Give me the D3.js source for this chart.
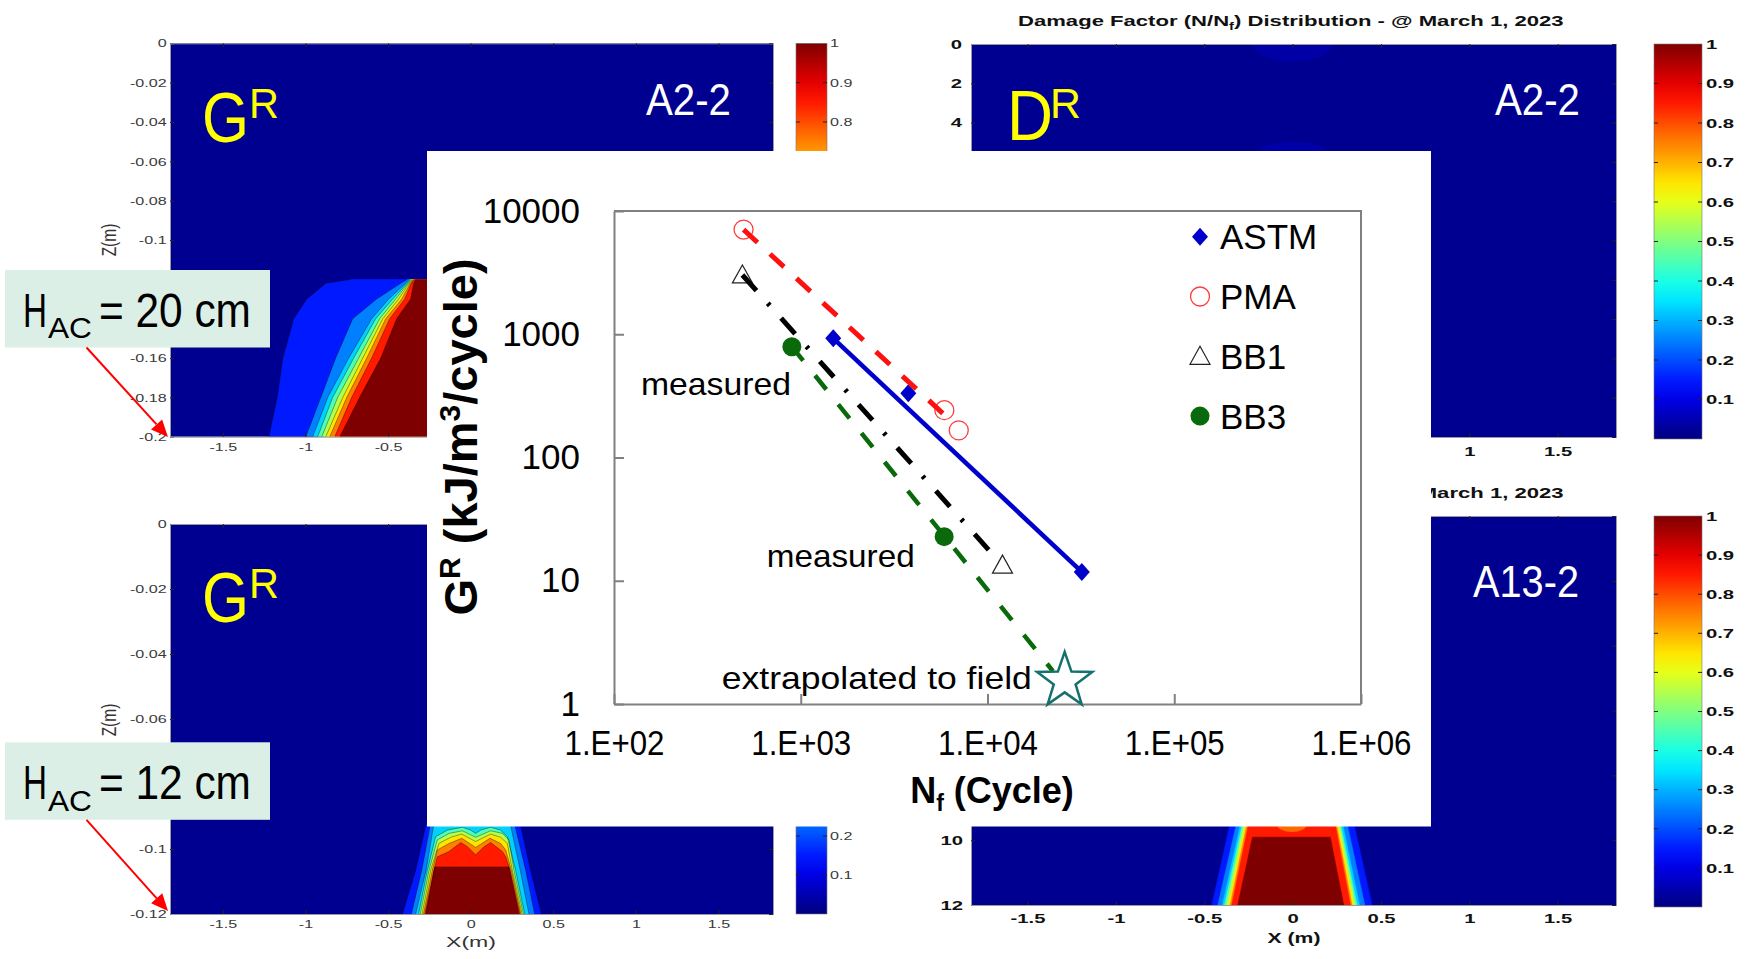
<!DOCTYPE html>
<html>
<head>
<meta charset="utf-8">
<title>Fatigue energy vs cycles, damage maps</title>
<script src="https://cdn.jsdelivr.net/npm/d3@7"></script>
<style>
  body { margin: 0; background: #fff; }
  svg { display: block; }
  text { font-family: "Liberation Sans", Arial, sans-serif; }
</style>
</head>
<body>
<svg id="fig" width="1748" height="959"></svg>
<script>
// ---- G^R vs Nf chart ----
const nfTicks = [1e2, 1e3, 1e4, 1e5, 1e6]
const grTicks = [1, 10, 100, 1000, 10000]
const seriesNames = ['ASTM', 'PMA', 'BB1', 'BB3']
const astm = [[1493, 927], [3767, 332], [31990, 11.8]]
const pma = [[494, 7063], [5875, 242], [7015, 166]]
const bb1 = [[487, 3027], [12030, 13.4]]
const bb3 = [[896, 793], [5861, 22.8]]
const field = [[25900, 1.54]]
// fitted lines
const astmFit = [[1493, 927], [31990, 11.8]]
const pmaFit = [[494, 7063], [6310, 201]]
const bb1Fit = [[487, 3027], [10540, 16.7]]
const bb3Fit = [[896, 793], [22400, 1.85]]
// text notes: label, Nf, G
const notes = [['measured', 139.5, 321], ['measured', 658, 13.0], ['extrapolated to field', 378, 1.32]]

// ---- damage maps ----
const xTicksM = [-1.5, -1, -0.5, 0, 0.5, 1, 1.5]
const cbTicks = [0.1, 0.2, 0.3, 0.4, 0.5, 0.6, 0.7, 0.8, 0.9, 1]
const bandTone = [0.15, 0.25, 0.33, 0.45, 0.55, 0.65, 0.75, 0.85, 1.0]
const jetStops = [0, 0.125, 0.375, 0.625, 0.875, 1]
const jetColors = ['#00007f', '#0000ff', '#00ffff', '#ffff00', '#ff0000', '#7f0000']

// G^R, H=20cm: x (m) of each level edge at these depths (m)
const gr20Depth = [-0.12, -0.122, -0.13, -0.14, -0.16, -0.18, -0.2]
const gr20Edge = [
  [-0.726, -0.877, -0.992, -1.071, -1.137, -1.171, -1.222],
  [-0.383, -0.423, -0.569, -0.714, -0.817, -0.907, -0.998],
  [-0.372, -0.393, -0.496, -0.599, -0.738, -0.865, -0.956],
  [-0.366, -0.384, -0.472, -0.575, -0.708, -0.835, -0.926],
  [-0.360, -0.378, -0.454, -0.551, -0.678, -0.805, -0.901],
  [-0.354, -0.372, -0.436, -0.532, -0.653, -0.774, -0.877],
  [-0.348, -0.366, -0.417, -0.514, -0.629, -0.750, -0.853],
  [-0.342, -0.360, -0.399, -0.490, -0.599, -0.720, -0.823],
  [-0.333, -0.345, -0.363, -0.448, -0.544, -0.672, -0.792]
]

// G^R, H=12cm: level outlines [x m, z m]
const gr12Levels = [
  [[-0.413, -0.12], [-0.333, -0.1065], [-0.26, -0.09], [-0.22, -0.085], [0.25, -0.085], [0.29, -0.09], [0.363, -0.1065], [0.428, -0.12]],
  [[-0.359, -0.12], [-0.296, -0.1065], [-0.235, -0.09], [-0.2, -0.085], [0.22, -0.085], [0.255, -0.09], [0.333, -0.1065], [0.387, -0.12]],
  [[-0.333, -0.12], [-0.27, -0.1065], [-0.215, -0.09], [-0.18, -0.085], [0.2, -0.085], [0.23, -0.09], [0.3, -0.1065], [0.353, -0.12]],
  [[-0.315, -0.12], [-0.262, -0.1065], [-0.212, -0.0962], [-0.141, -0.0942], [-0.05, -0.0933], [0, -0.0942], [0.03, -0.0952], [0.06, -0.0942], [0.121, -0.0933], [0.181, -0.0942], [0.222, -0.0962], [0.272, -0.1065], [0.327, -0.12]],
  [[-0.305, -0.12], [-0.252, -0.1065], [-0.202, -0.0972], [-0.131, -0.0952], [-0.05, -0.0944], [0.03, -0.0964], [0.121, -0.0944], [0.192, -0.0952], [0.232, -0.0972], [0.262, -0.1065], [0.319, -0.12]],
  [[-0.294, -0.12], [-0.242, -0.1065], [-0.192, -0.0983], [-0.121, -0.0964], [-0.054, -0.0954], [0.03, -0.0977], [0.121, -0.0954], [0.181, -0.0964], [0.222, -0.0983], [0.252, -0.1065], [0.311, -0.12]],
  [[-0.286, -0.12], [-0.232, -0.1065], [-0.202, -0.1003], [-0.131, -0.0983], [-0.054, -0.0967], [0.03, -0.0995], [0.117, -0.0967], [0.181, -0.0983], [0.212, -0.1003], [0.246, -0.1065], [0.304, -0.12]],
  [[-0.278, -0.12], [-0.222, -0.1065], [-0.202, -0.1024], [-0.131, -0.1008], [-0.06, -0.098], [-0.02, -0.0993], [0.03, -0.1018], [0.081, -0.0993], [0.121, -0.098], [0.192, -0.1008], [0.212, -0.1024], [0.238, -0.1065], [0.298, -0.12]],
  [[-0.272, -0.12], [-0.218, -0.1055], [0.232, -0.1055], [0.292, -0.12]]
]

// D^R, A13-2: [left top, left bottom, right bottom, right top] x (m), depth in cm
const a13Depth = [9.0, 12.0]
const a13Levels = [
  [-0.334, -0.457, 0.449, 0.327],
  [-0.297, -0.423, 0.408, 0.289],
  [-0.274, -0.397, 0.378, 0.264],
  [-0.264, -0.385, 0.364, 0.253],
  [-0.255, -0.374, 0.355, 0.246],
  [-0.247, -0.364, 0.346, 0.238],
  [-0.240, -0.353, 0.336, 0.230],
  [-0.230, -0.344, 0.327, 0.223],
  [-0.227, -0.310, 0.289, 0.213]
]
const a13CoreTop = 9.91
const a13Blob = [-0.004, 9.5, 0.085, 0.25]
// faint patches in D^R A2-2: x, z(cm), rx, rz
const a22Patches = [[0, 0, 0.226, 0.9], [0, 5.45, 0.19, 0.47]]

const jet = d3.scaleLinear().domain(jetStops).range(jetColors)
const navy = '#000090'
const svg = d3.select('#fig')
const defs = svg.append('defs')

const grad = defs.append('linearGradient').attr('id', 'jetbar')
  .attr('x1', 0).attr('y1', 1).attr('x2', 0).attr('y2', 0)
d3.range(0, 1.0001, 0.05).forEach(t => grad.append('stop').attr('offset', t).attr('stop-color', jet(t)))

// squeeze / stretch text horizontally about its x anchor
function widen(sel, k) {
  sel.each(function () {
    const ax = +this.getAttribute('x') || 0
    d3.select(this).attr('transform', `translate(${ax},0) scale(${k},1) translate(${-ax},0)`)
  })
}
function fitWidth(sel, width) {
  sel.each(function () {
    const w = this.getBBox().width
    if (w) widen(d3.select(this), width / w)
  })
}

const panels = [
  { id: 'tl', left: 170, right: 773, top: 43.3, bottom: 436.7, zDomain: [0, -0.2], zTicks: d3.range(0, -0.2001, -0.02), side: 'left', zPad: 3.4, xPad: 6, cb: [796, 827, 43.3, 436.7] },
  { id: 'bl', left: 170, right: 773, top: 524, bottom: 914, zDomain: [0, -0.12], zTicks: d3.range(0, -0.1201, -0.02), side: 'left', zPad: 3.4, xPad: 6, cb: [796, 827, 524, 914] },
  { id: 'tr', left: 971, right: 1616, top: 44, bottom: 437, zDomain: [0, 20], zTicks: d3.range(0, 20.1, 2), side: 'right', zPad: 9, xPad: 9.3, cb: [1654, 1702, 44, 439] },
  { id: 'br', left: 971, right: 1616, top: 516, bottom: 905, zDomain: [0, 12], zTicks: d3.range(0, 12.1, 2), side: 'right', zPad: 8, xPad: 8.3, cb: [1654, 1702, 516, 907] }
]
const card = [427, 151, 1431, 826.5]
const hacTops = [270, 742.3]

function drawPanel(p) {
  const x = d3.scaleLinear().domain([-1.82, 1.83]).range([p.left, p.right])
  const z = d3.scaleLinear().domain(p.zDomain).range([p.top, p.bottom])
  defs.append('clipPath').attr('id', 'clip-' + p.id).append('rect')
    .attr('x', p.left).attr('y', p.top).attr('width', p.right - p.left).attr('height', p.bottom - p.top)
  const g = svg.append('g')
  g.append('rect').attr('x', p.left).attr('y', p.top)
    .attr('width', p.right - p.left).attr('height', p.bottom - p.top).attr('fill', navy)
  const body = g.append('g').attr('clip-path', `url(#clip-${p.id})`)

  const st = p.side === 'left'
    ? { size: 11.5, weight: 'normal', fill: '#3a3a3a', k: 1.4 }
    : { size: 13.5, weight: 'bold', fill: '#111', k: 1.5 }
  const fmt = d => String(+d.toFixed(2))
  const yl = g.append('g').attr('transform', `translate(${p.left},0)`)
    .call(d3.axisLeft(z).tickValues(p.zTicks).tickFormat(fmt).tickSize(-4).tickPadding(p.zPad))
  const xb = g.append('g').attr('transform', `translate(0,${p.bottom})`)
    .call(d3.axisBottom(x).tickValues(xTicksM).tickFormat(fmt).tickSize(-4).tickPadding(p.xPad))
  g.append('g').attr('transform', `translate(0,${p.top})`)
    .call(d3.axisTop(x).tickValues(xTicksM).tickFormat('').tickSize(-4))
  g.append('g').attr('transform', `translate(${p.right},0)`)
    .call(d3.axisRight(z).tickValues(p.zTicks).tickFormat('').tickSize(-4))
  g.selectAll('.domain').attr('stroke', '#9a9a9a')
  g.selectAll('.tick line').attr('stroke', '#222')
  for (const a of [yl, xb]) {
    a.attr('font-size', st.size).attr('font-family', '"Liberation Sans", Arial, sans-serif')
      .attr('font-weight', st.weight)
    a.selectAll('text').attr('fill', st.fill).call(widen, st.k)
  }

  // colorbar
  const [c0, c1, cTop, cBot] = p.cb
  const cs = d3.scaleLinear().domain([0, 1]).range([cBot, cTop])
  g.append('rect').attr('x', c0).attr('y', cTop).attr('width', c1 - c0).attr('height', cBot - cTop)
    .attr('fill', 'url(#jetbar)')
  g.append('rect').attr('x', c0).attr('y', cTop).attr('width', c1 - c0).attr('height', cBot - cTop)
    .attr('fill', 'none').attr('stroke', '#777').attr('stroke-width', 0.6)
  g.selectAll('.cbt').data(cbTicks.slice(0, 9)).join('path')
    .attr('d', d => `M${c0},${cs(d)}h4M${c1},${cs(d)}h-4`).attr('stroke', '#222').attr('stroke-width', 1)
  g.selectAll('.cbl').data(cbTicks).join('text')
    .attr('x', p.side === 'left' ? 830 : 1706).attr('y', d => cs(d)).attr('dy', '0.35em')
    .attr('font-size', st.size).attr('font-weight', st.weight).attr('fill', st.fill)
    .text(d => String(+d.toFixed(1)))
    .call(widen, st.k)

  return { x, z, body, g }
}

const line = (x, z) => d3.line().x(d => x(d[0])).y(d => z(d[1]))

// top left: G^R, H = 20 cm
{
  const { x, z, body } = drawPanel(panels[0])
  const ln = line(x, z)
  gr20Edge.forEach((edge, i) => {
    const pts = edge.map((v, j) => [v, gr20Depth[j]])
    body.append('path').attr('d', ln(pts.concat([[1.83, -0.2], [1.83, -0.12]])) + 'Z')
      .attr('fill', jet(bandTone[i]))
  })
  gr20Edge.forEach(edge => {
    body.append('path').attr('d', ln(edge.map((v, j) => [v, gr20Depth[j]])))
      .attr('fill', 'none').attr('stroke', '#000').attr('stroke-opacity', 0.45).attr('stroke-width', 0.8)
  })
}
// bottom left: G^R, H = 12 cm
{
  const { x, z, body } = drawPanel(panels[1])
  const ln = line(x, z)
  gr12Levels.forEach((lev, i) => {
    body.append('path').attr('d', ln(lev) + 'Z').attr('fill', jet(bandTone[i]))
  })
  gr12Levels.forEach(lev => {
    body.append('path').attr('d', ln(lev)).attr('fill', 'none')
      .attr('stroke', '#000').attr('stroke-opacity', 0.45).attr('stroke-width', 0.8)
  })
}
// top right: D^R, A2-2
{
  const { x, z, body } = drawPanel(panels[2])
  body.selectAll('ellipse').data(a22Patches).join('ellipse')
    .attr('cx', d => x(d[0])).attr('cy', d => z(d[1]))
    .attr('rx', d => x(d[2]) - x(0)).attr('ry', d => z(d[3]) - z(0))
    .attr('fill', '#0000a6')
}
// bottom right: D^R, A13-2
{
  const { x, z, body } = drawPanel(panels[3])
  const ln = line(x, z)
  a13Levels.forEach((lev, i) => {
    const top = i === a13Levels.length - 1 ? a13CoreTop : a13Depth[0]
    const pts = [[lev[0], top], [lev[1], a13Depth[1]], [lev[2], a13Depth[1]], [lev[3], top]]
    body.append('path').attr('d', ln(pts) + 'Z').attr('fill', jet(bandTone[i]))
      .attr('stroke', jet(bandTone[i])).attr('stroke-width', 0.6)
  })
  body.append('ellipse').attr('cx', x(a13Blob[0])).attr('cy', z(a13Blob[1]))
    .attr('rx', x(a13Blob[2]) - x(0)).attr('ry', z(a13Blob[3]) - z(0)).attr('fill', '#ff6a00')
}

// drop tick labels that sit fully under the white card or the H_AC boxes
{
  const covers = [card].concat(hacTops.map(t => [5, t, 270, t + 77.5]))
  svg.selectAll('text').filter(function () {
    const b = this.getBoundingClientRect()
    return covers.some(c => b.left >= c[0] - 2 && b.right <= c[2] + 2 && b.top >= c[1] - 2 && b.bottom <= c[3] + 2)
  }).remove()
}

// panel captions
const cap = svg.append('g')
function label(txt, x, y, size, width, fill, opts = {}) {
  const t = cap.append('text').attr('x', x).attr('y', y).attr('font-size', size)
    .attr('fill', fill).attr('font-family', opts.family || 'Lato, "Open Sans", sans-serif')
    .attr('font-weight', opts.weight || 'normal').text(txt)
  fitWidth(t, width)
  return t
}
label('G', 202, 142, 70, 47, '#ffff00')
label('R', 249, 118, 42, 30, '#ffff00')
label('G', 202, 621.7, 70, 47, '#ffff00')
label('R', 249, 598.3, 42, 30, '#ffff00')
label('D', 1007, 140, 70, 46, '#ffff00')
label('R', 1050, 118, 42, 31, '#ffff00')
label('A2-2', 646, 115, 45, 85, '#fff')
label('A2-2', 1495, 115, 45, 85, '#fff')
label('A13-2', 1473, 597, 45, 106, '#fff')

// title of the right-hand maps; the lower one is mostly hidden by the card
defs.append('clipPath').attr('id', 'clip-title').append('rect')
  .attr('x', card[2]).attr('y', 470).attr('width', 300).attr('height', 40)
for (const ty of [26, 498]) {
  const t = cap.append('text').attr('x', 1018).attr('y', ty).attr('font-size', 15)
    .attr('font-weight', 'bold').attr('fill', '#111')
  t.append('tspan').text('Damage Factor (N/N')
  t.append('tspan').attr('font-size', 10).attr('dy', 4).text('f')
  t.append('tspan').attr('dy', -4).text(') Distribution - @ March 1, 2023')
  fitWidth(t, 546)
  if (ty > 400) cap.append('g').attr('clip-path', 'url(#clip-title)').node().appendChild(t.node())
}
for (const cy of [240, 720]) {
  cap.append('text').attr('transform', `translate(116,${cy}) scale(1.35,1) rotate(-90)`)
    .attr('text-anchor', 'middle').attr('font-size', 15.5).attr('fill', '#333').text('Z(m)')
}
label('X(m)', 471, 947, 15.5, 50, '#333', { family: '"Liberation Sans", Arial, sans-serif' })
  .attr('text-anchor', 'middle')
label('X (m)', 1294, 943, 14, 53, '#111', { family: '"Liberation Sans", Arial, sans-serif', weight: 'bold' })
  .attr('text-anchor', 'middle')

// white card for the fatigue chart
svg.append('rect').attr('x', card[0]).attr('y', card[1])
  .attr('width', card[2] - card[0]).attr('height', card[3] - card[1]).attr('fill', '#fff')

// ---- fatigue chart ----
const chart = svg.append('g')
const x = d3.scaleLog().domain([1e2, 1e6]).range([614, 1361])
const y = d3.scaleLog().domain([1, 1e4]).range([704, 211])
const ya = chart.append('g').attr('transform', 'translate(614,0)')
  .call(d3.axisLeft(y).tickValues(grTicks).tickFormat(d3.format('d')).tickSize(-10).tickSizeOuter(0).tickPadding(34))
const xa = chart.append('g').attr('transform', 'translate(0,704)')
  .call(d3.axisBottom(x).tickValues(nfTicks).tickFormat(d => '1.E+0' + Math.round(Math.log10(d))).tickSize(-10).tickSizeOuter(0).tickPadding(26))
for (const a of [ya, xa]) {
  a.attr('font-family', '"Liberation Sans", Arial, sans-serif').attr('font-size', 35)
  a.selectAll('line').attr('stroke', '#808080').attr('stroke-width', 2)
  a.select('.domain').attr('stroke', '#808080').attr('stroke-width', 2)
  a.selectAll('text').attr('fill', '#000')
}
xa.selectAll('text').call(fitWidth, 100)
chart.append('path').attr('d', `M614,211H1361V704`).attr('fill', 'none').attr('stroke', '#808080').attr('stroke-width', 2)

const diamond = 'M0,-9L8,0L0,9L-8,0Z'
const triangle = 'M0,-10L10,8L-10,8Z'
const pl = d3.line().x(d => x(d[0])).y(d => y(d[1]))

chart.selectAll('.pma').data(pma).join('circle').attr('cx', d => x(d[0])).attr('cy', d => y(d[1]))
  .attr('r', 9.5).attr('fill', 'none').attr('stroke', '#ff3b3b').attr('stroke-width', 1.3)
chart.selectAll('.bb1').data(bb1).join('path').attr('d', triangle)
  .attr('transform', d => `translate(${x(d[0])},${y(d[1])})`)
  .attr('fill', 'none').attr('stroke', '#222').attr('stroke-width', 1.2)
chart.selectAll('.bb3').data(bb3).join('circle').attr('cx', d => x(d[0])).attr('cy', d => y(d[1]))
  .attr('r', 9.5).attr('fill', '#0a690a')
chart.selectAll('.astm').data(astm).join('path').attr('d', diamond)
  .attr('transform', d => `translate(${x(d[0])},${y(d[1])})`).attr('fill', '#0000cc')

chart.append('path').attr('d', pl(astmFit)).attr('stroke', '#0000cc').attr('stroke-width', 4.5).attr('fill', 'none')
chart.append('path').attr('d', pl(pmaFit)).attr('stroke', '#ff1010').attr('stroke-width', 5)
  .attr('stroke-dasharray', '19 17').attr('fill', 'none')
chart.append('path').attr('d', pl(bb1Fit)).attr('stroke', '#000').attr('stroke-width', 5)
  .attr('stroke-dasharray', '21 17 3 17').attr('fill', 'none')
chart.append('path').attr('d', pl(bb3Fit)).attr('stroke', '#0a690a').attr('stroke-width', 4.5)
  .attr('stroke-dasharray', '18 19').attr('fill', 'none')

const starPath = (() => {
  const R = 29, r = 11.5
  return d3.range(10).map(i => {
    const a = -Math.PI / 2 + i * Math.PI / 5
    const rr = i % 2 ? r : R
    return (i ? 'L' : 'M') + (rr * Math.cos(a)).toFixed(2) + ',' + (rr * Math.sin(a)).toFixed(2)
  }).join('') + 'Z'
})()
chart.selectAll('.field').data(field).join('path').attr('d', starPath)
  .attr('transform', d => `translate(${x(d[0])},${y(d[1])})`)
  .attr('fill', '#fff').attr('stroke', '#16706e').attr('stroke-width', 2.5)

const noteWidth = [150, 148, 310]
notes.forEach((n, i) => {
  const t = chart.append('text').attr('x', x(n[1])).attr('y', y(n[2])).attr('font-size', 32)
    .attr('font-family', 'Lato, "Open Sans", sans-serif').attr('fill', '#000').text(n[0])
  fitWidth(t, noteWidth[i])
})

// axis titles
const yt = chart.append('text').attr('transform', 'translate(477,437) rotate(-90)')
  .attr('text-anchor', 'middle').attr('font-size', 47).attr('font-weight', 'bold')
yt.append('tspan').text('G')
yt.append('tspan').attr('font-size', 30).attr('dy', -17).text('R')
yt.append('tspan').attr('dy', 17).text(' (kJ/m')
yt.append('tspan').attr('font-size', 30).attr('dy', -17).text('3')
yt.append('tspan').attr('dy', 17).text('/cycle)')
const xt = chart.append('text').attr('x', 992).attr('y', 803).attr('text-anchor', 'middle')
  .attr('font-size', 36).attr('font-weight', 'bold')
xt.append('tspan').text('N')
xt.append('tspan').attr('font-size', 23).attr('dy', 8).text('f')
xt.append('tspan').attr('dy', -8).text(' (Cycle)')

// legend
const legend = chart.append('g').attr('transform', 'translate(1200,236.7)')
const legMark = [
  g => g.append('path').attr('d', diamond).attr('fill', '#0000cc'),
  g => g.append('circle').attr('r', 9.5).attr('fill', 'none').attr('stroke', '#ff3b3b').attr('stroke-width', 1.3),
  g => g.append('path').attr('d', triangle).attr('fill', 'none').attr('stroke', '#222').attr('stroke-width', 1.2),
  g => g.append('circle').attr('r', 9.5).attr('fill', '#0a690a')
]
seriesNames.forEach((name, i) => {
  const row = legend.append('g').attr('transform', `translate(0,${i * 59.8})`)
  legMark[i](row)
  row.append('text').attr('x', 20).attr('y', 12.5).attr('font-size', 35).attr('fill', '#000').text(name)
})

// H_AC boxes and arrows
const notesG = svg.append('g')
function hacBox(top, depth, tipY) {
  notesG.append('rect').attr('x', 5).attr('y', top).attr('width', 265).attr('height', 77.5).attr('fill', '#dcefe6')
  const base = top + 56.7
  const fam = 'Lato, "Open Sans", sans-serif'
  fitWidth(notesG.append('text').attr('x', 23).attr('y', base).attr('font-size', 49).attr('font-family', fam).text('H'), 24)
  fitWidth(notesG.append('text').attr('x', 48).attr('y', base + 11.6).attr('font-size', 30).attr('font-family', fam).text('AC'), 44)
  fitWidth(notesG.append('text').attr('x', 99).attr('y', base).attr('font-size', 49).attr('font-family', fam).text(`= ${depth} cm`), 152)
  const x0 = 86.5, y0 = top + 77.5, x1 = 168, y1 = tipY
  const L = Math.hypot(x1 - x0, y1 - y0), ux = (x1 - x0) / L, uy = (y1 - y0) / L
  const bx = x1 - ux * 17, by = y1 - uy * 17
  notesG.append('line').attr('x1', x0).attr('y1', y0).attr('x2', bx).attr('y2', by)
    .attr('stroke', '#ff0000').attr('stroke-width', 2)
  notesG.append('path').attr('d', `M${x1},${y1}L${bx - uy * 7.5},${by + ux * 7.5}L${bx + uy * 7.5},${by - ux * 7.5}Z`)
    .attr('fill', '#ff0000')
}
hacBox(hacTops[0], 20, 437)
hacBox(hacTops[1], 12, 911)
</script>
</body>
</html>
